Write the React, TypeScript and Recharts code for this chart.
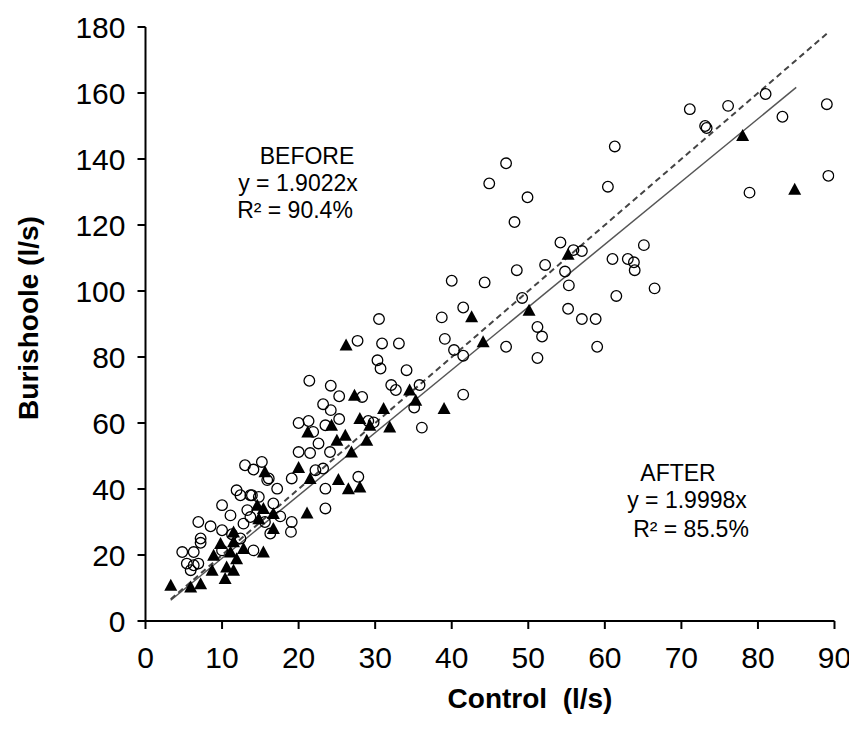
import React from "react";
import { ScatterChart, Scatter, XAxis, YAxis, ReferenceLine } from "recharts";

const xTicks = [0, 10, 20, 30, 40, 50, 60, 70, 80, 90];
const yTicks = [0, 20, 40, 60, 80, 100, 120, 140, 160, 180];

const beforeX = [
  40.0, 44.3, 41.5, 38.7, 39.1, 40.3, 41.5, 44.9, 47.1, 49.9, 48.2, 48.5, 49.2, 52.2, 54.2, 55.9, 57.0, 54.8, 55.3, 55.2,
  51.2, 51.8, 51.2, 47.1, 57.0, 58.8, 59.0, 61.5, 61.0, 63.0, 63.8, 63.9, 65.1, 66.5, 60.4, 61.3, 71.1, 73.1, 73.3, 76.1,
  81.0, 83.2, 89.0, 89.2, 78.9,
  30.5, 27.7, 30.9, 33.1, 30.3, 30.7, 34.1, 24.2, 25.3, 28.3, 32.1, 32.7, 35.8, 35.1, 23.2, 24.2, 25.3, 23.5, 36.1, 29.1,
  29.8, 41.5, 21.4,
  20.0, 21.3, 21.9, 22.6, 21.5, 20.0, 24.1, 22.2, 23.2, 23.5, 19.1, 13.0, 14.1, 15.2, 16.1, 17.2, 27.8, 23.5, 11.9, 13.9,
  16.7, 17.6, 19.1,
  10.0, 11.1, 6.9, 8.5, 10.0, 11.3, 7.2, 7.2, 4.8, 10.0, 6.3, 5.4, 6.3, 6.9, 5.9, 12.4, 13.7, 14.8, 13.3, 13.7,
  12.8, 12.4, 14.1, 15.6, 16.3, 15.9, 19.0,
];
const beforeY = [
  103.1, 102.6, 95.0, 92.0, 85.5, 82.1, 80.4, 132.6, 138.7, 128.4, 120.9, 106.3, 97.9, 107.9, 114.7, 112.4, 112.1, 105.9, 101.7, 94.6,
  89.1, 86.2, 79.7, 83.1, 91.5, 91.5, 83.1, 98.5, 109.7, 109.7, 108.7, 106.3, 113.9, 100.8, 131.6, 143.8, 155.1, 150.0, 149.4, 156.1,
  159.7, 152.8, 156.6, 134.9, 129.8,
  91.5, 84.9, 84.1, 84.1, 79.0, 76.5, 76.0, 71.3, 68.1, 67.9, 71.5, 70.0, 71.5, 64.7, 65.7, 63.9, 61.2, 59.3, 58.6, 60.6,
  60.2, 68.6, 72.8,
  60.0, 60.6, 57.3, 53.8, 50.9, 51.2, 51.2, 45.7, 46.2, 40.1, 43.2, 47.2, 45.9, 48.2, 43.2, 40.1, 43.7, 34.1, 39.6, 38.1,
  35.6, 31.7, 30.0,
  35.1, 32.0, 30.0, 28.7, 27.5, 26.3, 25.0, 23.7, 20.9, 21.4, 20.9, 17.4, 16.9, 17.4, 15.4, 38.1, 38.1, 37.6, 33.6, 31.5,
  29.5, 25.0, 21.4, 30.0, 26.5, 42.7, 27.0,
];

const afterX = [
  42.6, 44.1, 50.1, 55.2, 78.0, 84.8,
  26.2, 27.3, 31.1, 34.5, 35.3, 39.0, 24.3, 28.0, 29.3, 31.9, 26.1,
  28.9, 21.2, 25.0, 26.9, 20.0, 21.5, 25.2, 26.5, 28.0, 15.6, 21.1, 15.4, 14.8,
  3.3, 5.9, 7.2, 8.7, 10.4, 8.9, 9.8, 11.1, 11.9, 10.6, 11.5, 11.5, 11.5, 12.8, 16.7, 16.7, 15.4, 14.6,
];
const afterY = [
  92.2, 84.6, 94.2, 111.1, 147.1, 130.8,
  83.6, 68.4, 64.4, 70.0, 66.9, 64.4, 59.3, 61.4, 59.3, 58.8, 56.3,
  54.8, 57.3, 54.8, 51.2, 46.5, 43.2, 42.9, 40.1, 40.6, 45.2, 32.7, 34.1, 31.0,
  10.8, 10.3, 11.3, 15.4, 12.9, 19.9, 23.5, 20.9, 18.9, 16.4, 15.4, 24.0, 27.0, 22.0, 28.0, 32.6, 20.9, 35.1,
];

const beforeSlope = 1.9022;
const afterSlope = 1.9998;
const beforeFitX = [3.3, 85];
const afterFitX = [3.3, 89];

const beforeData = beforeX.map((x, i) => ({ x, y: beforeY[i] }));
const afterData = afterX.map((x, i) => ({ x, y: afterY[i] }));

const OpenCircle = (props: any) => (
  <circle cx={props.cx} cy={props.cy} r={5.3} fill="none" stroke="#000" strokeWidth={1.3} />
);
const FilledTriangle = (props: any) => {
  const { cx, cy } = props;
  return <polygon points={`${cx},${cy - 6.5} ${cx - 6.5},${cy + 5.5} ${cx + 6.5},${cy + 5.5}`} fill="#000" />;
};

const FONT = "'Liberation Sans', Arial, sans-serif";

export default function App() {
  return (
    <div style={{ width: 849, height: 717 }}>
      <ScatterChart width={849} height={717} margin={{ top: 19, right: 22.5, bottom: 4, left: 77.5 }}>
        <XAxis
          type="number"
          dataKey="x"
          domain={[0, 90]}
          ticks={xTicks}
          interval={0}
          tickSize={8}
          tickMargin={18}
          height={100}
          axisLine={{ stroke: "#000", strokeWidth: 2 }}
          tickLine={{ stroke: "#000", strokeWidth: 2 }}
          tick={{ fill: "#000", fontSize: 30, fontFamily: FONT }}
          allowDataOverflow
        />
        <YAxis
          type="number"
          dataKey="y"
          domain={[0, 180]}
          ticks={yTicks}
          interval={0}
          tickSize={8}
          tickMargin={12}
          width={60}
          axisLine={{ stroke: "#000", strokeWidth: 2 }}
          tickLine={{ stroke: "#000", strokeWidth: 2 }}
          tick={{ fill: "#000", fontSize: 30, fontFamily: FONT }}
          allowDataOverflow
        />
        <Scatter data={beforeData} shape={OpenCircle} isAnimationActive={false} />
        <Scatter data={afterData} shape={FilledTriangle} isAnimationActive={false} />
        <ReferenceLine
          segment={[
            { x: beforeFitX[0], y: beforeSlope * beforeFitX[0] },
            { x: beforeFitX[1], y: beforeSlope * beforeFitX[1] },
          ]}
          stroke="#555"
          strokeWidth={1.5}
        />
        <ReferenceLine
          segment={[
            { x: afterFitX[0], y: afterSlope * afterFitX[0] },
            { x: afterFitX[1], y: afterSlope * afterFitX[1] },
          ]}
          stroke="#444"
          strokeWidth={2}
          strokeDasharray="6 4"
        />
        <text x={20} y={310} transform="rotate(-90 20 310)" textAnchor="middle" dominantBaseline="central"
          fontFamily={FONT} fontWeight="bold" fontSize={28} fill="#000">Burishoole (l/s)</text>
        <text x={522} y={700} textAnchor="middle" fontFamily={FONT} fontWeight="bold" fontSize={28} fill="#000"
          style={{ whiteSpace: "pre" }}>{"Control  (l/s)"}</text>
        <text textAnchor="middle" fontFamily={FONT} fontSize={23} fill="#000">
          <tspan x={299} y={156}>BEFORE</tspan>
          <tspan x={290} y={183}>y = 1.9022x</tspan>
          <tspan x={287} y={210}>R² = 90.4%</tspan>
        </text>
        <text textAnchor="middle" fontFamily={FONT} fontSize={23} fill="#000">
          <tspan x={670} y={473}>AFTER</tspan>
          <tspan x={679} y={500}>y = 1.9998x</tspan>
          <tspan x={683} y={529}>R² = 85.5%</tspan>
        </text>
      </ScatterChart>
    </div>
  );
}
